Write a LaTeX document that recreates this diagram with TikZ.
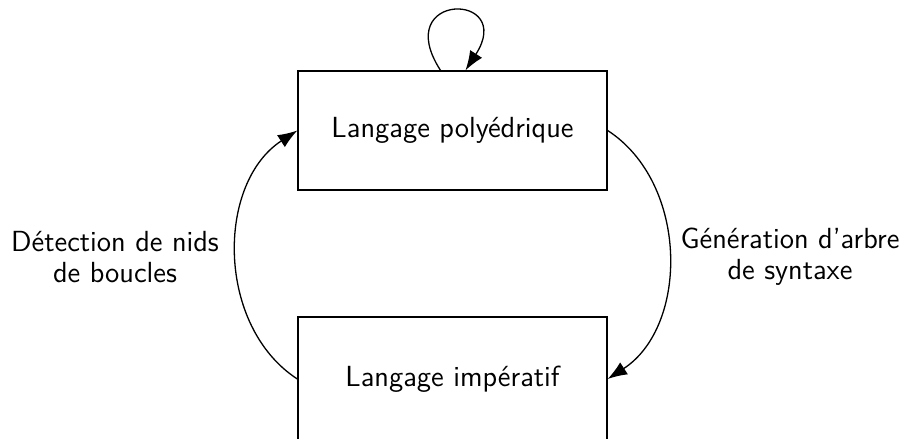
\documentclass[tikz,border=0pt]{standalone}
\usepackage{fontspec}
\usetikzlibrary{arrows.meta,calc}
\begin{document}
\begin{tikzpicture}[x=0.385pt,y=-0.385pt,
  font=\sffamily\fontsize{11.2pt}{12pt}\selectfont,
  box/.style={draw,line width=0.5pt,minimum width=309*0.385pt,inner sep=0pt},
  arr/.style={line width=0.5pt,-{Latex[length=7.5pt,width=5.5pt]}},
  lbl/.style={align=center,inner sep=0pt}]
\useasboundingbox (0,0) rectangle (905,439);
\clip (0,0) rectangle (905,439);
\node[box,minimum height=119*0.385pt] (b1) at (452.5,130.5) {Langage polyédrique};
\node[box,minimum height=124*0.385pt] (b2) at (452.5,379) {Langage impératif};
\node[lbl] (l1) at (115,257) {Détection de nids\\de boucles};
\node[lbl] (l2) at (790,257) {Génération d'arbre\\de syntaxe};
\draw[arr] (b2.west) to[bend left=57] (b1.west);
\draw[arr] (b1.east) to[bend left=57] (b2.east);
\draw[arr] ($(b1.north)+(-12,0)$) .. controls ($(b1.north)+(-63,-79)$) and ($(b1.north)+(64,-79)$) .. ($(b1.north)+(13,0)$);
\end{tikzpicture}
\end{document}
